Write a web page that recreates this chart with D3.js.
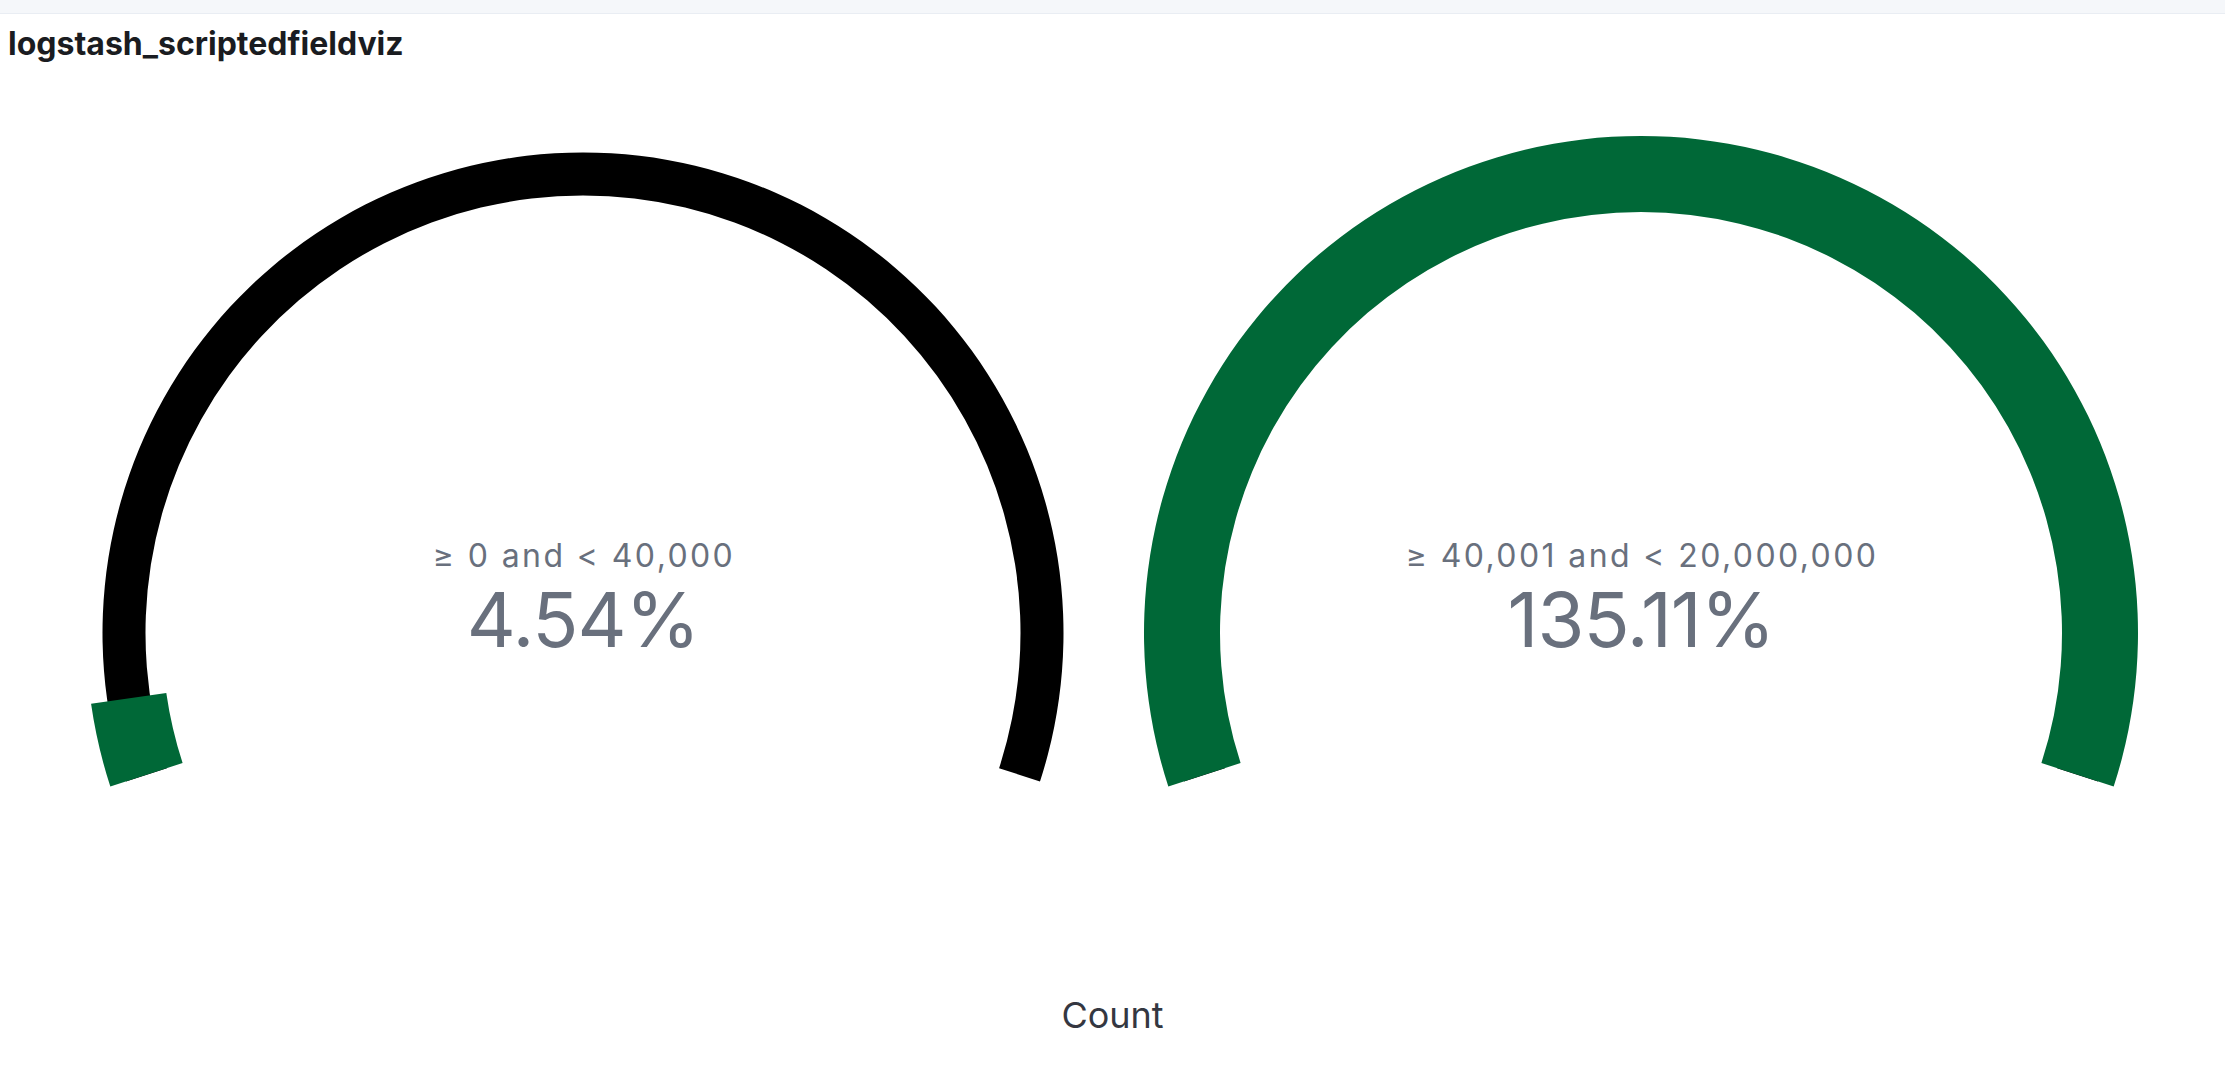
<!DOCTYPE html>
<meta charset="utf-8">
<style>
body { margin: 0; background: #fff; }
text { font-family: Inter, "Noto Sans", sans-serif; }
.title { font-weight: 700; fill: #1a1c21; }
.rangeLabel { fill: #69707d; letter-spacing: 2.4px; }
.valueLabel { fill: #69707d; letter-spacing: -1px; }
.axisTitle { fill: #343741; }
</style>
<svg id="chart"></svg>
<script src="https://cdn.jsdelivr.net/npm/d3@7"></script>
<script>

const width = 2225, height = 1088

// gauge data
const rangeLabels = ["≥ 0 and < 40,000", "≥ 40,001 and < 20,000,000"]
const percentValues = [4.54, 135.11]
const gaugeDomain = [0, 100]
const titleText = "logstash_scriptedfieldviz"
const metricName = "Count"

const svg = d3.select("#chart")
    .attr("width", width)
    .attr("height", height)

// top panel strip
svg.append("rect")
    .attr("width", width)
    .attr("height", 13)
    .attr("fill", "#f5f7fa")
svg.append("line")
    .attr("x1", 0).attr("x2", width)
    .attr("y1", 13.5).attr("y2", 13.5)
    .attr("stroke", "#e9edf3")

svg.append("text")
    .attr("class", "title")
    .attr("x", 8)
    .attr("y", 55)
    .attr("font-size", 32)
    .text(titleText)

const xCenter = d3.scalePoint()
    .domain(rangeLabels)
    .range([583, 1641])

const cy = 633
const midRadius = 459

const angle = d3.scaleLinear()
    .domain(gaugeDomain)
    .range([-0.6 * Math.PI, 0.6 * Math.PI])
    .clamp(true)

const bgArc = d3.arc()
    .innerRadius(midRadius - 21.5)
    .outerRadius(midRadius + 21.5)
    .startAngle(angle.range()[0])
    .endAngle(angle.range()[1])

const valueArc = d3.arc()
    .innerRadius(midRadius - 38)
    .outerRadius(midRadius + 38)
    .startAngle(angle.range()[0])
    .endAngle(d => angle(d))

const gauges = svg.selectAll(".gauge")
  .data(rangeLabels.map((label, i) => ({label, value: percentValues[i]})))
  .join("g")
    .attr("class", "gauge")
    .attr("transform", d => `translate(${xCenter(d.label)}, ${cy})`)

gauges.append("path")
    .attr("d", bgArc())
    .attr("fill", "#000")

gauges.append("path")
    .attr("d", d => valueArc(d.value))
    .attr("fill", "#006837")

gauges.append("text")
    .attr("class", "rangeLabel")
    .attr("text-anchor", "middle")
    .attr("x", 1)
    .attr("y", -66)
    .attr("font-size", 32)
    .text(d => d.label)

gauges.append("text")
    .attr("class", "valueLabel")
    .attr("text-anchor", "middle")
    .attr("y", 14)
    .attr("font-size", 76)
    .text(d => d3.format(".2f")(d.value) + "%")

svg.append("text")
    .attr("class", "axisTitle")
    .attr("text-anchor", "middle")
    .attr("x", width / 2)
    .attr("y", 1028)
    .attr("font-size", 36)
    .text(metricName)

</script>
